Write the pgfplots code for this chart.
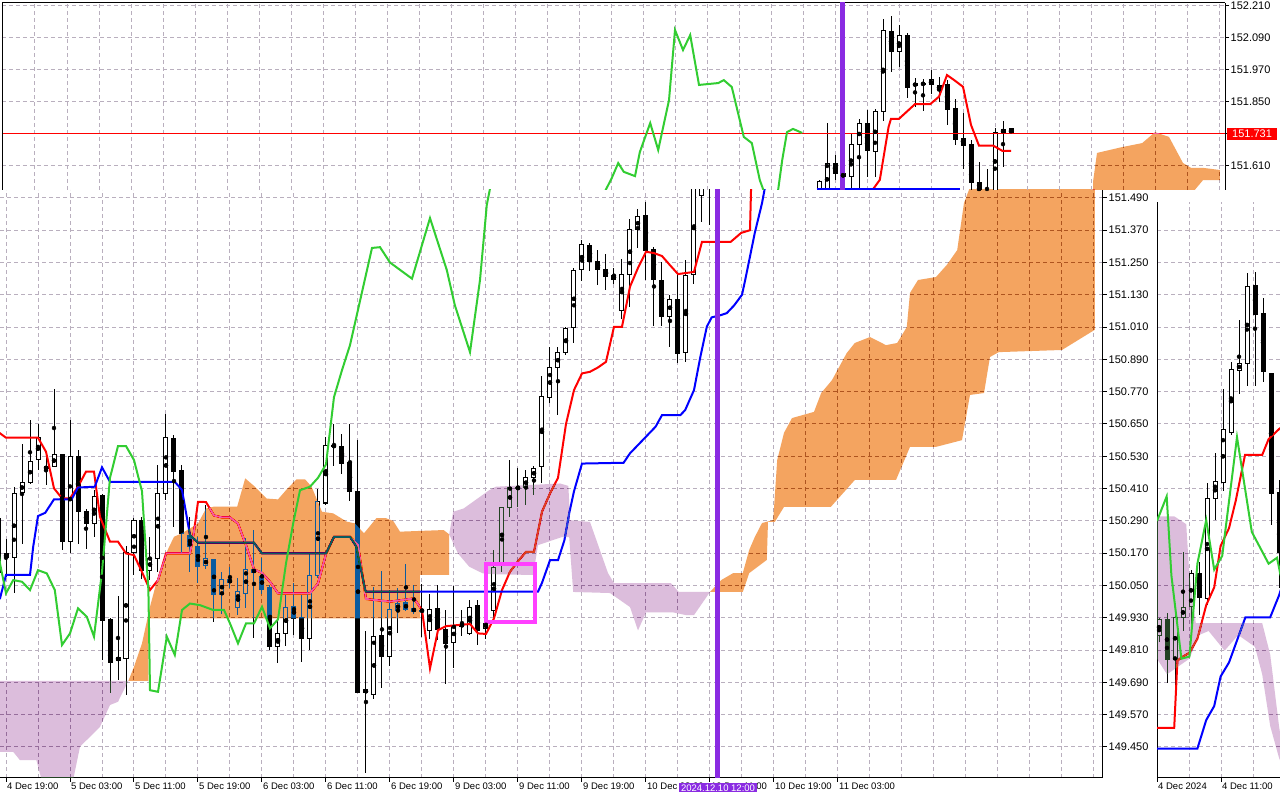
\documentclass[border=0pt]{standalone}
\usepackage{fontspec}
\setmainfont{Liberation Sans}
\usepackage{pgfplots}
\usepackage{pgfplotstable}
\pgfplotsset{compat=1.18}

\definecolor{tenkan}{RGB}{255,0,0}
\definecolor{kijun}{RGB}{0,0,255}
\definecolor{chikou}{RGB}{50,205,50}
\definecolor{orangex}{RGB}{11,91,159}
\definecolor{lilacx}{RGB}{35,66,35}
\definecolor{vline}{RGB}{138,43,226}
\definecolor{boxm}{RGB}{255,64,255}
\definecolor{gridc}{RGB}{185,175,190}

% ---------- main window H1 candles: i o h l c ----------
\pgfplotstableread{
i o h l c
-1 150.10 150.40 150.00 150.30
0 150.169 150.225 150.083 150.154
1 150.154 150.417 150.023 150.392
2 150.395 150.578 150.206 150.433
3 150.433 150.665 150.427 150.512
4 150.518 150.652 150.479 150.599
5 150.484 150.535 150.423 150.492
6 150.492 150.780 150.490 150.537
7 150.537 150.540 150.182 150.213
8 150.213 150.667 150.172 150.531
9 150.531 150.553 150.204 150.324
10 150.326 150.336 150.188 150.281
11 150.281 150.404 150.231 150.382
12 150.386 150.392 149.775 149.922
13 149.924 149.930 149.652 149.767
14 149.773 150.014 149.699 149.782
15 149.779 150.200 149.643 150.175
16 150.175 150.300 150.090 150.293
17 150.293 150.305 150.076 150.107
18 150.107 150.231 150.070 150.151
19 150.151 150.497 150.101 150.392
20 150.392 150.687 150.367 150.600
21 150.596 150.609 150.268 150.473
22 150.479 150.497 150.169 150.244
23 150.237 150.305 150.101 150.194
24 150.196 150.231 150.060 150.122
25 150.126 150.349 150.113 150.151
26 150.147 150.150 149.915 150.018
27 150.018 150.101 149.944 150.073
28 150.073 150.120 150.043 150.060
29 149.971 150.080 149.944 150.028
30 150.021 150.225 149.965 150.110
31 150.110 150.256 149.857 150.098
32 150.085 150.151 150.018 150.037
33 150.041 150.050 149.810 149.825
34 149.825 149.922 149.763 149.872
35 149.875 150.014 149.825 149.969
36 149.974 150.060 149.866 149.928
37 149.932 150.014 149.767 149.854
38 149.854 150.172 149.810 150.088
39 150.088 150.410 150.080 150.362
40 150.357 150.603 150.349 150.572
41 150.572 150.652 150.494 150.566
42 150.568 150.615 150.466 150.503
43 150.506 150.652 150.367 150.398
44 150.401 150.590 149.650 149.655
45 149.662 149.882 149.354 149.652
46 149.645 150.045 149.630 149.863
47 149.866 150.107 149.670 149.789
48 149.788 150.035 149.750 149.961
49 149.959 150.043 149.874 149.986
50 149.986 150.130 149.958 149.961
51 149.965 150.051 149.946 149.955
52 149.959 150.055 149.860 149.955
53 149.884 150.020 149.853 149.961
54 149.965 150.051 149.847 149.887
55 149.887 149.961 149.686 149.835
56 149.838 150.048 149.746 149.903
57 149.906 149.958 149.862 149.901
58 149.872 149.996 149.866 149.971
59 149.976 149.996 149.829 149.884
60 149.891 149.958 149.850 149.909
61 149.959 150.184 149.928 150.120
62 150.138 150.343 150.101 150.340
63 150.340 150.516 150.305 150.414
64 150.414 150.485 150.343 150.410
65 150.414 150.481 150.349 150.451
66 150.451 150.494 150.386 150.485
67 150.491 150.828 150.430 150.751
68 150.751 150.937 150.729 150.860
69 150.860 150.937 150.683 150.915
70 150.915 151.011 150.906 151.005
71 151.009 151.232 150.952 151.222
72 151.224 151.333 151.182 151.315
73 151.315 151.323 151.219 151.253
74 151.255 151.298 151.166 151.224
75 151.224 151.281 151.147 151.197
76 151.203 151.232 151.172 151.187
77 151.073 151.265 151.042 151.207
78 151.207 151.414 151.085 151.373
79 151.373 151.451 151.306 151.422
80 151.426 151.476 151.185 151.296
81 151.298 151.308 151.017 151.187
82 151.185 151.253 151.014 151.051
83 151.051 151.129 150.937 151.113
84 151.114 151.209 150.877 150.915
85 150.915 151.259 150.881 151.203
86 151.206 151.600 151.170 151.550
87 151.500 151.800 151.400 151.620
88 151.620 151.700 151.390 151.600
89 151.600 151.700 151.520 151.650
90 151.650 151.750 151.580 151.700
}\mainc

% ---------- upper window candles ----------
\pgfplotstableread{
i o h l c
86 151.450 151.560 151.400 151.550
87 151.500 151.770 151.450 151.620
88 151.620 151.651 151.557 151.582
89 151.580 151.620 151.530 151.570
90 151.570 151.732 151.500 151.692
91 151.692 151.789 151.500 151.770
92 151.770 151.822 151.570 151.667
93 151.664 151.826 151.570 151.814
94 151.814 152.164 151.780 152.117
95 152.116 152.172 151.964 152.039
96 152.039 152.139 151.982 152.101
97 152.101 152.110 151.866 151.907
98 151.910 151.941 151.832 151.920
99 151.920 151.936 151.816 151.916
100 151.916 151.970 151.879 151.935
101 151.897 151.945 151.850 151.913
102 151.916 151.932 151.766 151.825
103 151.826 151.860 151.691 151.712
104 151.716 151.810 151.600 151.689
105 151.692 151.707 151.450 151.550
106 151.550 151.626 151.450 151.500
107 151.500 151.600 151.450 151.520
108 151.520 151.754 151.450 151.736
109 151.736 151.779 151.607 151.747
110 151.753 151.753 151.731 151.731
}\topc

% ---------- right window candles ----------
\pgfplotstableread{
i o h l c
0 149.866 149.930 149.840 149.925
1 149.925 149.947 149.690 149.775
2 149.775 149.940 149.620 149.932
3 149.932 150.175 149.880 149.969
4 149.972 150.109 149.880 150.094
5 150.094 150.138 149.940 150.006
6 150.002 150.432 149.977 150.373
7 150.373 150.542 150.293 150.437
8 150.432 150.781 150.400 150.628
9 150.619 150.880 150.610 150.854
10 150.851 151.039 150.763 150.876
11 150.876 151.210 150.792 151.160
12 151.163 151.216 150.792 151.057
13 151.061 151.118 150.807 150.844
14 150.839 150.840 150.275 150.392
15 150.395 150.442 150.043 150.175
}\rightc

\pgfplotsset{
  mtstyle/.style={
    scale only axis,
    axis line style={-, line width=1pt, black},
    tick align=outside,
    major tick length=4pt,
    minor tick length=0pt,
    every tick/.style={black, line width=1pt},
    grid=both,
    major grid style={gridc, line width=1pt, dash pattern=on 4pt off 3pt},
    minor grid style={gridc, line width=1pt, dash pattern=on 4pt off 3pt},
    yticklabel style={font=\fontsize{11}{12}\selectfont, inner sep=1.5pt},
    xticklabel style={font=\fontsize{9.5}{11}\selectfont, inner sep=1pt, anchor=north west},
  },
  wicks/.style={only marks, mark=none, forget plot,
    error bars/.cd, y dir=both, y explicit, error mark=none,
    error bar style={line width=1pt, draw=black}},
  bodies/.style={only marks, mark=none, forget plot,
    error bars/.cd, y dir=both, y explicit, error mark=none,
    error bar style={line width=5pt, draw=black}},
  hollows/.style={only marks, mark=none, forget plot,
    error bars/.cd, y dir=both, y explicit, error mark=none,
    error bar style={line width=3pt, draw=white}},
}
\newcommand\candles[1]{%
  \addplot[wicks] table[x=i, y expr={(\thisrow{h}+\thisrow{l})/2},
     y error expr={(\thisrow{h}-\thisrow{l})/2}] {#1};
  \addplot[bodies] table[x=i, y expr={(\thisrow{o}+\thisrow{c})/2},
     y error expr={abs(\thisrow{c}-\thisrow{o})/2+0.0019}] {#1};
  \addplot[hollows] table[x=i, y expr={(\thisrow{o}+\thisrow{c})/2},
     y error expr={max(0,(\thisrow{c}-\thisrow{o})/2-0.0019)}] {#1};
}

\begin{document}
\begin{tikzpicture}
\useasboundingbox (0,0) rectangle (1280pt,800pt);
\fill[white] (0,0) rectangle (1280pt,800pt);

% ================= MAIN WINDOW =================
\begin{axis}[mtstyle, name=main,
  at={(0pt,22pt)}, anchor=south west, width=1103pt, height=588pt,
  xmin=-0.75, xmax=137.125, ymin=149.3348, ymax=151.5194,
  axis x line*=bottom, axis y line*=right,
  xtick={0,8,16,24,32,40,48,56,64,72,80,88,96,104},
  xticklabels={4 Dec 19:00,5 Dec 03:00,5 Dec 11:00,5 Dec 19:00,6 Dec 03:00,6 Dec 11:00,6 Dec 19:00,9 Dec 03:00,9 Dec 11:00,9 Dec 19:00,10 Dec 03:00,10 Dec 11:00,10 Dec 19:00,11 Dec 03:00},
  minor xtick={4,12,20,28,36,44,52,60,68,76,84,92,100,108,112,116,120,124,128,132,136},
  ytick={149.45,149.57,149.69,149.81,149.93,150.05,150.17,150.29,150.41,150.53,150.65,150.77,150.89,151.01,151.13,151.25,151.37,151.49},
  yticklabels={149.450,149.570,149.690,149.810,149.930,150.050,150.170,150.290,150.410,150.530,150.650,150.770,150.890,151.010,151.130,151.250,151.370,151.490},
]
\candles{\mainc}
% Tenkan-sen
\addplot[tenkan, line width=2pt] coordinates {(-1,150.621) (0,150.599) (4,150.599) (5,150.547) (6,150.411) (7,150.374) (8,150.374) (9,150.417) (10,150.473) (11,150.473) (11.75,150.305) (13,150.213) (14,150.213) (15,150.169) (16,150.163) (17,150.10) (18,150.033) (19,150.07) (20,150.169) (23,150.169) (23.5,150.25) (24,150.361) (25,150.36) (26,150.31) (27,150.303) (28,150.303) (29,150.28) (30,150.2) (31,150.11) (32,150.097) (33,150.064) (34,150.021) (38,150.021) (39,150.058) (40,150.167) (41,150.231) (43,150.231) (44,150.2) (45,150.0) (48,149.99) (51,150.002) (52,149.959) (53,149.742) (54,149.884) (55,149.899) (58,149.907) (59,149.872) (60,149.87) (61,149.928) (62,150.033) (63,150.101) (64,150.14) (65,150.175) (66,150.175) (67,150.324) (68,150.392) (69,150.45) (70,150.65) (71,150.776) (72,150.838) (73,150.844) (74,150.86) (75,150.881) (76,151.011) (77,151.011) (78,151.16) (79,151.23) (80,151.29) (81,151.285) (82,151.274) (83,151.24) (84,151.207) (85,151.211) (86,151.215) (87,151.327) (90.6,151.327) (91.9,151.36) (93,151.37) (93.2,151.6)};
% Kijun-sen
\addplot[kijun, line width=2pt] coordinates {(-1,150.0) (-0.75,150.002) (0,150.089) (3,150.089) (3.4,150.194) (4,150.308) (4.9,150.32) (6,150.37) (8.2,150.37) (9,150.414) (11.1,150.417) (12,150.489) (13,150.435) (21.1,150.435) (22,150.405) (23,150.237) (24,150.209) (31,150.209) (32,150.169) (40,150.169) (41,150.231) (43,150.231) (43.8,150.194) (44.9,150.033) (45,150.027) (66.5,150.027) (67,150.06) (68,150.144) (69,150.144) (69.8,150.218) (70.4,150.318) (71,150.40) (72,150.503) (77.2,150.506) (78,150.541) (81.2,150.64) (82,150.683) (84.3,150.683) (84.9,150.702) (86,150.776) (86.8,150.9) (87.6,151.011) (88.2,151.046) (89.4,151.055) (90.1,151.062) (91,151.09) (92,151.13) (92.4,151.185) (93.6,151.36) (94.5,151.47) (95,151.55)};
% Kumo (drawn in difference mode like the terminal)
\addplot[fill=lilacx, draw=none, blend mode=difference] coordinates {(-1,149.696) (15.3,149.696) (14,149.618) (13,149.606) (11.75,149.525) (9.25,149.451) (8.2,149.30) (4.7,149.30) (3.8,149.401) (1.75,149.401) (0.9,149.432) (-1,149.432)} -- cycle;
\addplot[fill=orangex, draw=none, blend mode=difference] coordinates {(15.3,149.696) (16,149.748) (17,149.835) (18,149.971) (19,150.083) (20,150.169) (21,150.231) (22,150.244) (23,150.262) (24,150.28) (25,150.336) (26,150.343) (28.9,150.343) (29.9,150.448) (31,150.42) (32.6,150.373) (34,150.37) (35,150.404) (36.3,150.444) (37.4,150.444) (38.2,150.417) (39.5,150.324) (40.9,150.318) (42.6,150.287) (43.6,150.281) (44.75,150.244) (46.3,150.3) (47.5,150.3) (48.4,150.29) (49.25,150.25) (54.7,150.256) (55.4,150.24) (55.4,150.089) (51.75,150.089) (51.75,149.928) (17.8,149.928) (17.8,149.696)} -- cycle;
\addplot[fill=lilacx, draw=none, blend mode=difference] coordinates {(55.4,150.24) (55.9,150.324) (57.2,150.336) (60.4,150.404) (61.25,150.417) (69.25,150.429) (70.3,150.42) (70.5,150.293) (73,150.286) (75.25,150.096) (76,150.059) (83.1,150.059) (84.1,150.026) (88,150.026) (86,149.94) (85,149.94) (83.4,149.95) (80,149.95) (79,149.883) (78,149.97) (75.5,150.022) (70.9,150.026) (70.4,150.23) (69.5,150.23) (66.5,150.2) (65.9,150.089) (60.9,150.092) (59.6,150.095) (57.9,150.12) (56.5,150.169)} -- cycle;
\addplot[fill=orangex, draw=none, blend mode=difference] coordinates {(88,150.026) (89.4,150.07) (90.9,150.096) (92.1,150.096) (92.9,150.182) (93.6,150.23) (94.5,150.282) (95.9,150.293) (96.4,150.516) (97.25,150.617) (98.25,150.672) (101,150.695) (101.9,150.765) (103.25,150.813) (105.1,150.914) (106.1,150.951) (108,150.973) (110,150.943) (111.4,150.951) (112.6,151.01) (113,151.137) (114,151.185) (116.25,151.196) (117.6,151.241) (118.9,151.296) (119.5,151.419) (119.75,151.471) (120.5,151.53) (136.1,151.53) (136.1,151.0) (132,150.925) (124.1,150.917) (123,150.899) (122.25,150.765) (120.5,150.758) (119.5,150.59) (116.25,150.565) (113,150.565) (111.25,150.442) (106.1,150.442) (103.1,150.342) (97.25,150.342) (96.1,150.286) (95.25,150.286) (95.1,150.145) (92.9,150.096) (92.1,150.026)} -- cycle;
% Chikou span
\addplot[chikou, line width=2pt] coordinates {(-1,150.20) (-0.75,150.132) (0,150.021) (0.9,150.07) (2,150.064) (3,150.033) (4,150.107) (5.1,150.095) (6.1,150.033) (7,149.829) (8,149.872) (9,149.965) (10.1,149.934) (11,149.86) (12,150.10) (13,150.45) (14,150.568) (15,150.568) (16,150.516) (17,150.40) (17.8,150.033) (18,149.661) (19,149.655) (19.7,149.785) (20.1,149.86) (21.1,149.792) (22,149.959) (23,149.983) (24.25,149.977) (25.9,149.959) (27.25,149.959) (28,149.909) (29,149.835) (30,149.909) (31,149.909) (32,149.971) (33,149.891) (34,149.924) (35,150.132) (35.9,150.281) (36.75,150.404) (38,150.417) (39,150.45) (40,150.50) (41,150.75) (42,150.85) (43,150.943) (45.75,151.304) (46.75,151.307) (48,151.25) (50.75,151.19) (53,151.415) (55.1,151.222) (56.1,151.092) (58,150.917) (59.25,151.185) (60.1,151.464) (61,151.60)};
% time marker and box
\addplot[vline, line width=5pt] coordinates {(89,149.30) (89,151.60)};
\addplot[boxm, line width=4pt] coordinates {(60,149.914) (66.1,149.914) (66.1,150.13) (60,150.13)} -- cycle;
\coordinate (dl) at (axis cs:89,149.3348);
\end{axis}
\node[fill=vline, text=white, anchor=north, inner xsep=2pt, inner ysep=1.2pt,
  font=\fontsize{9.5}{11}\selectfont] at ([yshift=-5pt]dl) {2024.12.10 12:00};

% ================= RIGHT SMALL WINDOW =================
\begin{axis}[mtstyle, name=rp,
  at={(1157pt,22pt)}, anchor=south west, width=125pt, height=576pt,
  xmin=-0.25, xmax=15.375, ymin=149.3348, ymax=151.4748,
  axis x line*=bottom, axis y line*=left,
  xtick={-0.25,7.75}, xticklabels={4 Dec 2024,4 Dec 11:00},
  minor xtick={3.75,11.75},
  ytick={149.45,149.57,149.69,149.81,149.93,150.05,150.17,150.29,150.41,150.53,150.65,150.77,150.89,151.01,151.13,151.25,151.37},
  yticklabels={}, ytick style={draw=none},
]
\candles{\rightc}
\addplot[tenkan, line width=2pt] coordinates {(-0.25,149.521) (1.9,149.521) (2.3,149.771) (3,149.786) (3.8,149.8) (4.8,149.852) (5.9,149.977) (6.9,150.043) (7.7,150.197) (8.75,150.263) (9.6,150.366) (10.75,150.535) (12.9,150.535) (13.7,150.594) (15,150.631) (15.4,150.64)};
\addplot[kijun, line width=2pt] coordinates {(-0.25,149.444) (4.8,149.444) (5.9,149.55) (6.9,149.602) (7.7,149.712) (8.75,149.764) (10.8,149.932) (13.9,149.932) (15,150.013) (15.4,150.05)};
\addplot[fill=lilacx, draw=none, blend mode=difference] coordinates {(-0.25,150.307) (1.9,150.307) (3.4,150.278) (3.8,150.087) (4.6,149.91) (12.9,149.91) (13.9,149.793) (15,149.528) (15.4,149.45) (15.4,149.38) (15,149.41) (13.9,149.528) (12.9,149.72) (12,149.822) (9.9,149.866) (8.2,149.808) (6.2,149.881) (5,149.866) (3.8,149.778) (1,149.72) (-0.25,149.778)} -- cycle;
\addplot[chikou, line width=2pt] coordinates {(-0.25,150.29) (0.96,150.381) (1.55,150.087) (2.8,149.778) (3.8,149.786) (4.8,150.131) (5.9,150.293) (6.9,150.109) (7.9,150.16) (9.75,150.601) (11.6,150.249) (13.7,150.131) (14.75,150.153) (15.2,150.087)};
\end{axis}

% ================= UPPER WINDOW =================
\begin{axis}[mtstyle, name=top,
  at={(2pt,610pt)}, anchor=south west, width=1223pt, height=187pt,
  xmin=-16.125, xmax=136.75, ymin=151.52, ymax=152.22125,
  axis x line*=top, axis y line*=right,
  xtick={-12,-8,...,136}, xticklabels={}, xtick style={draw=none},
  ytick={151.61,151.73,151.85,151.97,152.09,152.21},
  yticklabels={151.610,,151.850,151.970,152.090,152.210},
]
\candles{\topc}
\addplot[tenkan, line width=1pt] coordinates {(-16.125,151.731) (136.75,151.731)};
\addplot[tenkan, line width=2pt] coordinates {(91,151.45) (93.6,151.558) (94.7,151.757) (95,151.787) (96,151.787) (98,151.842) (99.9,151.842) (101,151.87) (102,151.951) (102.9,151.932) (104,151.907) (105,151.764) (106,151.686) (107.8,151.686) (108.9,151.667) (110,151.667)};
\addplot[kijun, line width=2pt] coordinates {(85.7,151.524) (103.6,151.524)};
\addplot[fill=orangex, draw=none, blend mode=difference] coordinates {(120.25,151.45) (120.25,151.55) (120.75,151.659) (123.9,151.681) (126.4,151.696) (128,151.737) (129.75,151.719) (131.5,151.621) (132.5,151.603) (134,151.603) (136.1,151.595) (136.1,151.557) (134,151.557) (131,151.45)} -- cycle;
\addplot[chikou, line width=2pt] coordinates {(58,151.45) (59,151.50) (60.1,151.565) (60.9,151.621) (61.6,151.588) (63,151.572) (63.6,151.662) (64.9,151.771) (65.9,151.67) (67.25,151.857) (68,152.12) (69,152.045) (69.9,152.101) (71,151.914) (73.4,151.921) (74.1,151.932) (75.1,151.906) (76.6,151.719) (77.6,151.696) (78.6,151.557) (79.9,151.45) (80.8,151.50) (81.4,151.632) (82,151.737) (82.75,151.749) (83.9,151.734)};
\addplot[vline, line width=5pt] coordinates {(88.94,151.40) (88.94,152.30)};
\coordinate (pt) at (axis cs:136.75,151.731);
\end{axis}
\draw[line width=1pt] (top.south west) -- (top.north west);
\node[fill=red, text=white, anchor=west, inner xsep=5pt, inner ysep=2pt,
  font=\fontsize{11}{12}\selectfont] at ([xshift=2pt]pt) {151.731};
\end{tikzpicture}
\end{document}
